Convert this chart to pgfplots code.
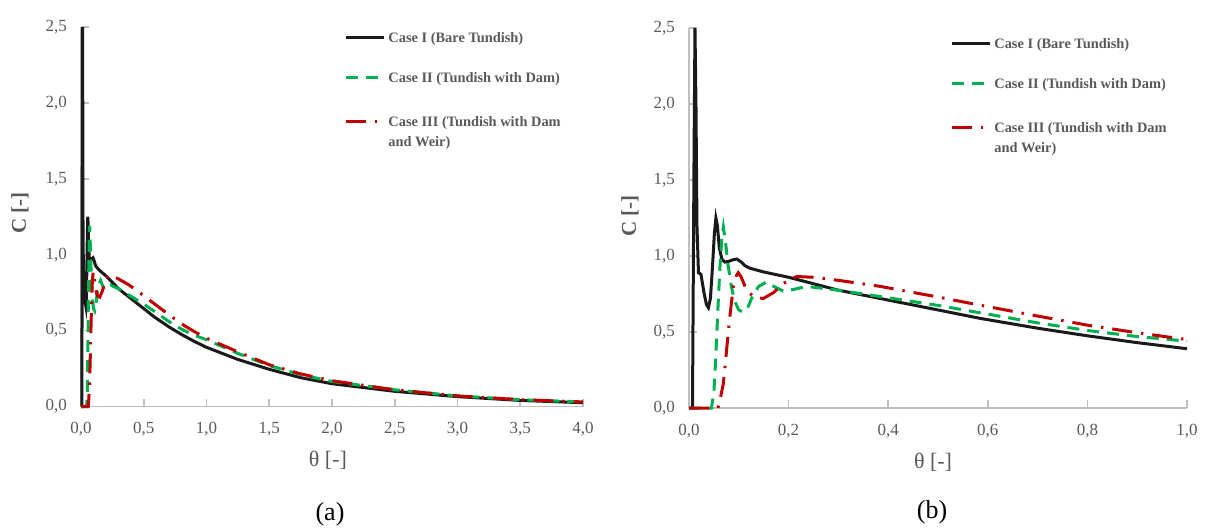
\documentclass[border=0pt]{standalone}
\usepackage{fontspec}
\setmainfont{Liberation Serif}
\usepackage{pgfplots}
\usepackage{pgfplotstable}
\pgfplotsset{compat=1.18}

\definecolor{txtgray}{HTML}{595959}
\definecolor{axgray}{HTML}{BFBFBF}
\definecolor{caseI}{HTML}{1A1A1A}
\definecolor{caseII}{HTML}{00B050}
\definecolor{caseIII}{HTML}{C00000}

% Residence time distribution curves, dimensionless time vs. concentration
\pgfplotstableread{
theta C
0     0
0.007 0
0.010 1.6
0.012 2.5
0.014 2.0
0.016 1.2
0.019 0.89
0.024 0.88
0.030 0.76
0.035 0.68
0.039 0.66
0.043 0.72
0.047 0.92
0.051 1.15
0.054 1.25
0.057 1.20
0.061 1.05
0.066 0.98
0.072 0.96
0.080 0.965
0.088 0.975
0.096 0.98
0.105 0.96
0.113 0.935
0.122 0.92
0.150 0.895
0.200 0.86
0.300 0.775
0.400 0.71
0.500 0.645
0.584 0.59
0.700 0.525
0.800 0.475
0.900 0.43
1.000 0.39
1.250 0.31
1.500 0.245
1.750 0.19
2.000 0.15
2.500 0.10
3.000 0.065
3.500 0.04
4.000 0.025
}\caseone

\pgfplotstableread{
theta C
0     0
0.045 0
0.050 0.10
0.054 0.35
0.058 0.65
0.062 0.92
0.066 1.12
0.069 1.19
0.073 1.10
0.078 0.95
0.085 0.80
0.092 0.70
0.100 0.645
0.109 0.63
0.118 0.66
0.128 0.74
0.140 0.80
0.156 0.83
0.170 0.80
0.189 0.77
0.210 0.78
0.236 0.80
0.300 0.775
0.400 0.725
0.500 0.675
0.578 0.63
0.700 0.56
0.800 0.51
0.900 0.47
1.000 0.44
1.250 0.35
1.500 0.27
1.750 0.21
2.000 0.165
2.500 0.11
3.000 0.07
3.500 0.045
4.000 0.03
}\casetwo

\pgfplotstableread{
theta C
0     0
0.058 0
0.062 0.05
0.069 0.16
0.076 0.40
0.082 0.60
0.089 0.80
0.095 0.87
0.099 0.89
0.105 0.86
0.115 0.78
0.130 0.73
0.149 0.72
0.170 0.76
0.190 0.82
0.216 0.865
0.250 0.86
0.300 0.84
0.384 0.80
0.500 0.73
0.571 0.685
0.700 0.605
0.800 0.545
0.900 0.495
1.000 0.45
1.250 0.36
1.500 0.275
1.750 0.215
2.000 0.17
2.500 0.11
3.000 0.07
3.500 0.045
4.000 0.03
}\casethree

\pgfplotsset{
  rtd/.style={
    scale only axis,
    clip=false,
    axis x line*=bottom,
    axis y line*=left,
    axis line style={draw=axgray, line width=0.8pt},
    tick style={draw=axgray, line width=0.8pt},
    major tick length=4pt,
    tick align=inside,
    ymin=0, ymax=2.5,
    ytick={0,0.5,1,1.5,2,2.5},
    tick label style={font=\fontsize{8.5}{10}\selectfont, text=txtgray},
    /pgf/number format/use comma,
    /pgf/number format/fixed,
    /pgf/number format/fixed zerofill,
    /pgf/number format/precision=1,
    /pgf/number format/assume math mode=true,
    xticklabel style={anchor=center, yshift=-11.5pt},
    yticklabel style={anchor=east, xshift=-3.5pt},
    xlabel={θ [-]},
    ylabel={C [-]},
    xlabel style={font=\fontsize{11}{13}\selectfont, text=txtgray, anchor=center},
    ylabel style={font=\fontsize{10.5}{12}\selectfont\bfseries, text=txtgray, anchor=center},
    legend style={draw=none, fill=none, anchor=north west,
      font=\fontsize{7.2}{10}\selectfont\bfseries, text=txtgray,
      row sep=11.5pt, column sep=0pt,
      cells={anchor=base west},
      nodes={inner xsep=1.5pt, inner ysep=1pt}},
    legend image code/.code={\draw[##1] (0pt,2.4pt) -- (19pt,2.4pt);},
  },
  c1/.style={color=caseI, line width=1.5pt, solid},
  c2/.style={color=caseII, line width=1.5pt, dash pattern=on 6pt off 4pt},
  c3/.style={color=caseIII, line width=1.5pt, dash pattern=on 10pt off 4.5pt on 1.2pt off 4.5pt},
}

\begin{document}
\begin{tikzpicture}
\path[use as bounding box] (0pt,0pt) rectangle (603pt,263.5pt);

% (a) full time range
\begin{axis}[rtd,
  at={(40.5pt,60.25pt)}, anchor=south west,
  width=251pt, height=189.75pt,
  xmin=0, xmax=4,
  xtick={0,0.5,1,1.5,2,2.5,3,3.5,4},
  xlabel style={at={(axis description cs:0.492,-0.141)}},
  ylabel style={at={(axis description cs:-0.1215,0.51)}},
  legend style={at={(0.512,1.003)}},
]
\addplot[c1] table[x=theta, y=C] {\caseone};
\addlegendentry{Case I (Bare Tundish)}
\addplot[c2] table[x=theta, y=C] {\casetwo};
\addlegendentry{Case II (Tundish with Dam)}
\addplot[c3] table[x=theta, y=C] {\casethree};
\addlegendentry{\begin{tabular}[t]{@{}l@{}}Case III (Tundish with Dam\\and Weir)\end{tabular}}
\end{axis}

% (b) early time detail
\begin{axis}[rtd,
  at={(344.5pt,59.5pt)}, anchor=south west,
  width=249pt, height=190pt,
  xmin=0, xmax=1,
  restrict x to domain=0:1,
  xtick={0,0.2,0.4,0.6,0.8,1},
  xlabel style={at={(axis description cs:0.49,-0.1434)}},
  ylabel style={at={(axis description cs:-0.1185,0.505)}},
  legend style={at={(0.512,0.99)}},
]
\addplot[c1] table[x=theta, y=C] {\caseone};
\addlegendentry{Case I (Bare Tundish)}
\addplot[c2] table[x=theta, y=C] {\casetwo};
\addlegendentry{Case II (Tundish with Dam)}
\addplot[c3] table[x=theta, y=C] {\casethree};
\addlegendentry{\begin{tabular}[t]{@{}l@{}}Case III (Tundish with Dam\\and Weir)\end{tabular}}
\end{axis}

\node[font=\fontsize{13}{15}\selectfont] at (165pt,6.5pt) {(a)};
\node[font=\fontsize{13}{15}\selectfont] at (466pt,7.5pt) {(b)};
\end{tikzpicture}
\end{document}
